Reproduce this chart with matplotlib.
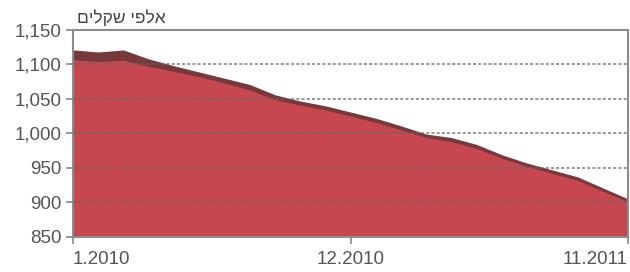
import numpy as np
import matplotlib.pyplot as plt

# monthly values, thousands of shekels (1.2010 .. 11.2011)
months = np.arange(23)
total = np.array([1121, 1118, 1121, 1108, 1098, 1089, 1080, 1071, 1056, 1047, 1040, 1031,
                  1022, 1011, 999, 994, 984, 969, 957, 947, 937, 921, 905])
lower = np.array([1107, 1104, 1106, 1097, 1090, 1082, 1073, 1063, 1049, 1041, 1034, 1025,
                  1016, 1005, 994, 988, 978, 964, 952, 942, 932, 916, 901])
yticks = [850, 900, 950, 1000, 1050, 1100, 1150]
xtick_pos = [0, 11, 22]
xtick_labels = ["1.2010", "12.2010", "11.2011"]
unit_label = "אלפי שקלים"

plt.rcParams['font.family'] = ['Liberation Sans', 'DejaVu Sans']

fig = plt.figure(figsize=(6.3, 2.72), dpi=100)
ax = fig.add_axes([0.116, 0.129, 0.881, 0.761])

ax.fill_between(months, 850, total, color="#763a3c", linewidth=0, zorder=1)
ax.fill_between(months, 850, lower, color="#c6474f", linewidth=0, zorder=2)

for v in yticks[1:-1]:
    ax.axhline(v, color="#666666", linewidth=1.1, linestyle=(0, (2, 1.4)), zorder=3, alpha=0.85)

ax.set_xlim(0, 22)
ax.set_ylim(850, 1150)
ax.set_yticks(yticks)
ax.set_yticklabels([f"{v:,}" for v in yticks], color="#555555", fontsize=13.5)
ax.set_xticks(xtick_pos)
labels = ax.set_xticklabels(xtick_labels, color="#555555", fontsize=13.5)
labels[0].set_ha("left")
labels[2].set_ha("right")
ax.tick_params(axis="y", length=5, color="#888888", width=1.2, pad=3)
ax.tick_params(axis="x", length=5, color="#888888", width=1.2, pad=5)

for s in ax.spines.values():
    s.set_color("#8c8c8c")
    s.set_linewidth(1.5)

# rtl label, reversed for left-to-right drawing
fig.text(0.122, 0.905, unit_label[::-1], fontsize=12.5, color="#444444", ha="left", va="bottom")

fig.savefig("out.png", dpi=100)
